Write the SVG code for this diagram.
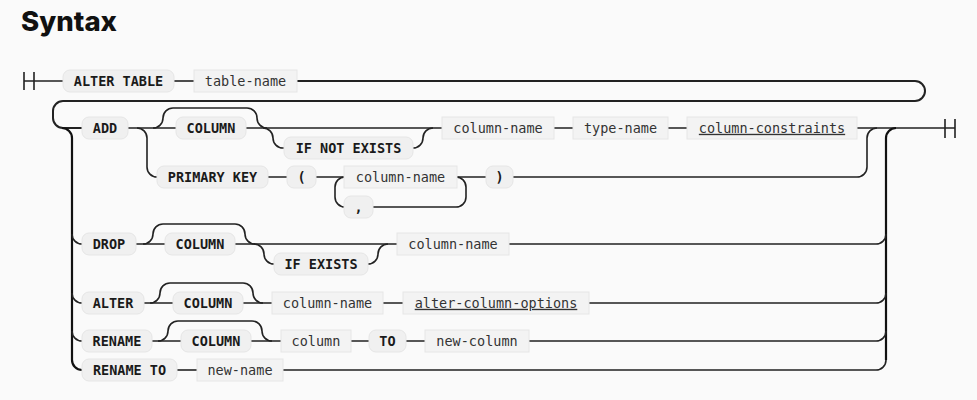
<svg xmlns="http://www.w3.org/2000/svg" width="977" height="400" viewBox="0 0 977 400">
<style>
.bg{fill:#fafafa}
.kw rect{fill:#f0f0f0;stroke:#e6e6e6;stroke-width:1}
.nt rect{fill:#f3f3f3;stroke:#e6e6e6;stroke-width:1}
text{font-family:"DejaVu Sans Mono","Liberation Mono",monospace;font-size:13.5px;fill:#222;text-anchor:middle}
.kw text{font-weight:bold;fill:#1a1a1a}
.nt text{fill:#333}
.u{text-decoration:underline}
.title{font-family:Inter,"Liberation Sans",sans-serif;font-size:27px;font-weight:800;text-anchor:start;fill:#111}
#connectors path{fill:none;stroke:#222;stroke-width:1.6}
#connectors path.trunk{stroke:#111;stroke-width:2.2}
</style>
<rect class="bg" x="0" y="0" width="977" height="400"/>
<text class="title" x="21" y="31" textLength="96" lengthAdjust="spacingAndGlyphs">Syntax</text>

<g id="connectors">
  <!-- start / end markers -->
  <path d="M24,72 V90 M34,72 V90 M24,81 H63"/>
  <path d="M945,119 V138 M955,119 V138 M857,128 H955"/>
  <!-- row 1 -->
  <path d="M174,81 H194"/>
  <path d="M297,81 H915 A10 10 0 0 1 925,91 A10 10 0 0 1 915,101 H63 A10 10 0 0 0 53,111 V118 A10 10 0 0 0 63,128 H82" style="stroke-width:2"/>
  <!-- left trunk -->
  <path class="trunk" d="M62,128 A10 10 0 0 1 72,138 V360 A10 10 0 0 0 82,370"/>
  <path d="M72,234 A10 10 0 0 0 82,244"/>
  <path d="M72,293 A10 10 0 0 0 82,303"/>
  <path d="M72,331 A10 10 0 0 0 82,341"/>
  <!-- right trunk -->
  <path class="trunk" d="M886,360 V138 A10 10 0 0 1 896,128"/>
  <!-- ADD row -->
  <path d="M128,128 H176 M246,128 H442 M554,128 H573 M668,128 H687"/>
  <path d="M153,128 A10 10 0 0 0 163,118 A10 10 0 0 1 173,108 H247 A10 10 0 0 1 257,118 A10 10 0 0 0 267,128"/>
  <path d="M263,128 A10 10 0 0 1 273,138 A10 10 0 0 0 283,148 H284"/>
  <path d="M413,148 A10 10 0 0 0 423,138 A10 10 0 0 1 433,128"/>
  <path d="M137,128 A10 10 0 0 1 147,138 V167 A10 10 0 0 0 157,177"/>
  <!-- PRIMARY KEY row -->
  <path d="M268,177 H287 M316,177 H344 M457,177 H486"/>
  <path d="M513,177 H857 A10 10 0 0 0 867,167 V138 A10 10 0 0 1 877,128"/>
  <path d="M456,177 A10 10 0 0 1 466,187 V197 A10 10 0 0 1 456,207 H373"/>
  <path d="M345,207 A10 10 0 0 1 335,197 V187 A10 10 0 0 1 345,177"/>
  <!-- DROP row -->
  <path d="M136,244 H165 M235,244 H397"/>
  <path d="M143,244 A10 10 0 0 0 153,234 A10 10 0 0 1 163,224 H235 A10 10 0 0 1 245,234 A10 10 0 0 0 255,244"/>
  <path d="M254,244 A10 10 0 0 1 264,254 A10 10 0 0 0 274,264"/>
  <path d="M368,264 A10 10 0 0 0 378,254 A10 10 0 0 1 388,244"/>
  <path d="M509,244 H876 A10 10 0 0 0 886,234"/>
  <!-- ALTER row -->
  <path d="M144,303 H173 M243,303 H272 M383,303 H403"/>
  <path d="M150,303 A10 10 0 0 0 160,293 A10 10 0 0 1 170,283 H243 A10 10 0 0 1 253,293 A10 10 0 0 0 263,303"/>
  <path d="M589,303 H876 A10 10 0 0 0 886,293"/>
  <!-- RENAME row -->
  <path d="M152,341 H181 M251,341 H281 M351,341 H369 M406,341 H425"/>
  <path d="M158,341 A10 10 0 0 0 168,331 A10 10 0 0 1 178,321 H252 A10 10 0 0 1 262,331 A10 10 0 0 0 272,341"/>
  <path d="M529,341 H876 A10 10 0 0 0 886,331"/>
  <!-- RENAME TO row -->
  <path d="M177,370 H197"/>
  <path d="M283,370 H876 A10 10 0 0 0 886,360"/>
</g>

<g id="n-alter-table" class="kw"><rect x="63" y="70" width="111" height="22" rx="7"/><text x="118.5" y="85.8">ALTER TABLE</text></g>
<g id="n-table-name" class="nt"><rect x="194" y="70" width="103" height="22"/><text x="245.5" y="85.8">table-name</text></g>

<g id="n-add" class="kw"><rect x="82" y="117" width="46" height="22" rx="7"/><text x="105" y="132.8">ADD</text></g>
<g id="n-add-column" class="kw"><rect x="176" y="117" width="70" height="22" rx="7"/><text x="211" y="132.8">COLUMN</text></g>
<g id="n-if-not-exists" class="kw"><rect x="284" y="137" width="129" height="22" rx="7"/><text x="348.5" y="152.8">IF NOT EXISTS</text></g>
<g id="n-add-column-name" class="nt"><rect x="442" y="117" width="112" height="22"/><text x="498" y="132.8">column-name</text></g>
<g id="n-type-name" class="nt"><rect x="573" y="117" width="95" height="22"/><text x="620.5" y="132.8">type-name</text></g>
<g id="n-column-constraints" class="nt"><rect x="687" y="117" width="170" height="22"/><text class="u" x="772" y="132.8">column-constraints</text></g>

<g id="n-primary-key" class="kw"><rect x="157" y="166" width="111" height="22" rx="7"/><text x="212.5" y="181.8">PRIMARY KEY</text></g>
<g id="n-lparen" class="kw"><rect x="287" y="166" width="29" height="22" rx="7"/><text x="301.5" y="181.8">(</text></g>
<g id="n-pk-column-name" class="nt"><rect x="344" y="166" width="113" height="22"/><text x="400.5" y="181.8">column-name</text></g>
<g id="n-rparen" class="kw"><rect x="486" y="166" width="27" height="22" rx="7"/><text x="499.5" y="181.8">)</text></g>
<g id="n-comma" class="kw"><rect x="344" y="196" width="29" height="22" rx="7"/><text x="358.5" y="211.8">,</text></g>

<g id="n-drop" class="kw"><rect x="82" y="233" width="54" height="22" rx="7"/><text x="109" y="248.8">DROP</text></g>
<g id="n-drop-column" class="kw"><rect x="165" y="233" width="70" height="22" rx="7"/><text x="200" y="248.8">COLUMN</text></g>
<g id="n-if-exists" class="kw"><rect x="274" y="253" width="94" height="22" rx="7"/><text x="321" y="268.8">IF EXISTS</text></g>
<g id="n-drop-column-name" class="nt"><rect x="397" y="233" width="112" height="22"/><text x="453" y="248.8">column-name</text></g>

<g id="n-alter" class="kw"><rect x="82" y="292" width="62" height="22" rx="7"/><text x="113" y="307.8">ALTER</text></g>
<g id="n-alter-column" class="kw"><rect x="173" y="292" width="70" height="22" rx="7"/><text x="208" y="307.8">COLUMN</text></g>
<g id="n-alter-column-name" class="nt"><rect x="272" y="292" width="111" height="22"/><text x="327.5" y="307.8">column-name</text></g>
<g id="n-alter-column-options" class="nt"><rect x="403" y="292" width="186" height="22"/><text class="u" x="496" y="307.8">alter-column-options</text></g>

<g id="n-rename" class="kw"><rect x="82" y="330" width="70" height="22" rx="7"/><text x="117" y="345.8">RENAME</text></g>
<g id="n-rename-column" class="kw"><rect x="181" y="330" width="70" height="22" rx="7"/><text x="216" y="345.8">COLUMN</text></g>
<g id="n-column" class="nt"><rect x="281" y="330" width="70" height="22"/><text x="316" y="345.8">column</text></g>
<g id="n-to" class="kw"><rect x="369" y="330" width="37" height="22" rx="7"/><text x="387.5" y="345.8">TO</text></g>
<g id="n-new-column" class="nt"><rect x="425" y="330" width="104" height="22"/><text x="477" y="345.8">new-column</text></g>

<g id="n-rename-to" class="kw"><rect x="82" y="359" width="95" height="22" rx="7"/><text x="129.5" y="374.8">RENAME TO</text></g>
<g id="n-new-name" class="nt"><rect x="197" y="359" width="86" height="22"/><text x="240" y="374.8">new-name</text></g>
</svg>
